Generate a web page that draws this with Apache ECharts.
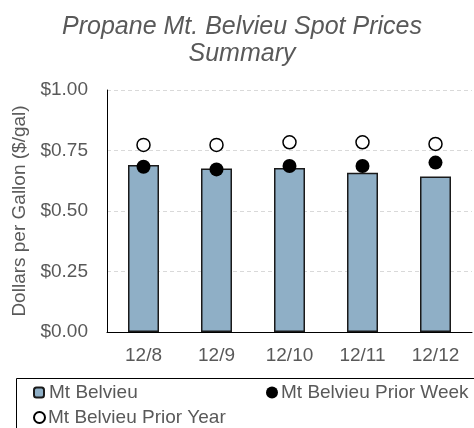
<!DOCTYPE html>
<html>
<head>
<meta charset="utf-8">
<script src="https://cdn.jsdelivr.net/npm/echarts@6/dist/echarts.min.js"></script>
<style>
  html, body { margin: 0; padding: 0; background: #fff; }
  #chart { width: 474px; height: 428px; }
</style>
</head>
<body>
<div id="chart"></div>
<script>
var days = ['12/8', '12/9', '12/10', '12/11', '12/12'];
var mtBelvieu = [0.690, 0.676, 0.678, 0.658, 0.643];
var priorWeek = [0.683, 0.672, 0.686, 0.686, 0.700];
var priorYear = [0.773, 0.773, 0.784, 0.784, 0.777];

var font = 'Liberation Sans, Arial, sans-serif';
var grey = '#595959';

var chart = echarts.init(document.getElementById('chart'), null, { renderer: 'canvas' });

chart.setOption({
  animation: false,
  backgroundColor: '#fff',
  title: {
    text: 'Propane Mt. Belvieu Spot Prices\nSummary',
    left: 237,
    textAlign: 'center',
    top: 9,
    textStyle: {
      fontFamily: font,
      fontStyle: 'italic',
      fontWeight: 'normal',
      fontSize: 25,
      lineHeight: 27,
      color: grey
    }
  },
  graphic: [{
    type: 'rect',
    shape: { x: 16.5, y: 378.5, width: 470, height: 60 },
    style: { fill: 'none', stroke: '#000', lineWidth: 1 }
  }],
  legend: [{
    data: ['Mt Belvieu'],
    left: 33, top: 383, padding: 0,
    itemWidth: 10, itemHeight: 10,
    textStyle: { fontFamily: font, fontSize: 19, color: grey }
  }, {
    data: [{ name: 'Mt Belvieu Prior Week', icon: 'circle' }],
    left: 266, top: 383, padding: 0,
    itemWidth: 12, itemHeight: 12,
    textStyle: { fontFamily: font, fontSize: 19, color: grey, padding: [0, 0, 0, -2] }
  }, {
    data: [{ name: 'Mt Belvieu Prior Year', icon: 'circle' }],
    left: 33, top: 408, padding: 0,
    itemWidth: 11, itemHeight: 11,
    textStyle: { fontFamily: font, fontSize: 19, color: grey, padding: [0, 0, 0, -2] }
  }],
  grid: { left: 107, right: 2, top: 90, bottom: 96 },
  xAxis: {
    type: 'category',
    data: days,
    axisLine: { lineStyle: { color: '#000', width: 1 } },
    axisTick: { show: false },
    axisLabel: { fontFamily: font, fontSize: 19, color: grey, margin: 14 }
  },
  yAxis: {
    type: 'value',
    min: 0, max: 1, interval: 0.25,
    name: 'Dollars per Gallon ($/gal)',
    nameLocation: 'middle',
    nameGap: 72,
    nameTextStyle: { fontFamily: font, fontSize: 19, color: grey },
    axisLine: { show: true, lineStyle: { color: '#000', width: 1 } },
    axisTick: { show: false },
    axisLabel: {
      fontFamily: font, fontSize: 19, color: grey, margin: 19,
      formatter: function (v) { return '$' + v.toFixed(2); }
    },
    splitLine: { lineStyle: { color: '#d9d9d9', type: [4, 3], width: 1 } }
  },
  series: [{
    name: 'Mt Belvieu',
    type: 'bar',
    data: mtBelvieu,
    barWidth: 31,
    itemStyle: { color: '#8FAFC6', borderColor: '#1a1a1a', borderWidth: 1.5 }
  }, {
    name: 'Mt Belvieu Prior Week',
    type: 'scatter',
    data: priorWeek,
    symbol: 'circle',
    symbolSize: 14,
    itemStyle: { color: '#000', opacity: 1 },
    z: 3
  }, {
    name: 'Mt Belvieu Prior Year',
    type: 'scatter',
    data: priorYear,
    symbol: 'circle',
    symbolSize: 13,
    itemStyle: { color: '#fff', borderColor: '#000', borderWidth: 1.5, opacity: 1 },
    z: 3
  }]
});
</script>
</body>
</html>
